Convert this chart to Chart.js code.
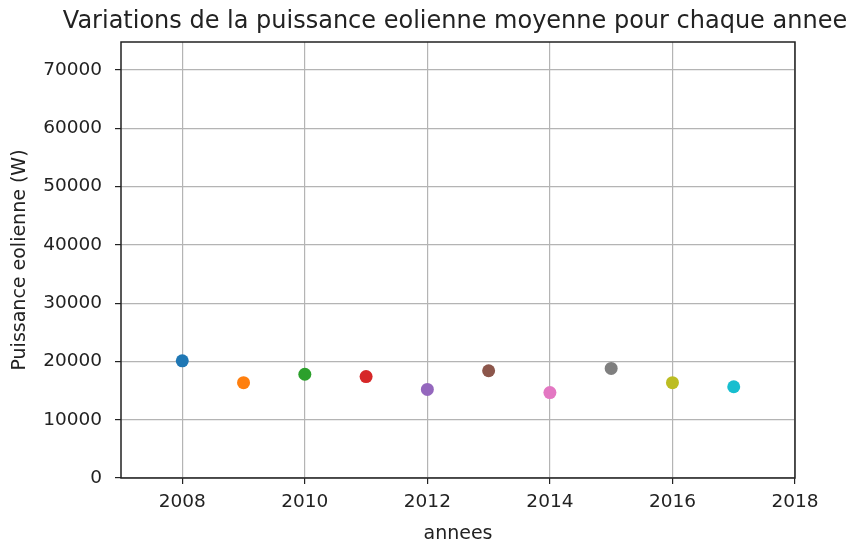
<!DOCTYPE html>
<html>
<head>
<meta charset="utf-8">
<script src="https://cdn.jsdelivr.net/npm/chart.js@4/dist/chart.umd.min.js"></script>
<style>
  html, body { margin: 0; padding: 0; background: #fff; }
  #wrap { width: 856px; height: 543px; }
</style>
</head>
<body>
<div id="wrap"><canvas id="windChart" width="856" height="543"></canvas></div>
<script>
// donnees
var annees    = [2008, 2009, 2010, 2011, 2012, 2013, 2014, 2015, 2016, 2017];
var puissance = [20100, 16350, 17800, 17400, 15200, 18400, 14650, 18800, 16350, 15650];
var couleurs  = ["#1f77b4", "#ff7f0e", "#2ca02c", "#d62728", "#9467bd",
                 "#8c564b", "#e377c2", "#7f7f7f", "#bcbd22", "#17becf"];
var ticksX    = [2008, 2010, 2012, 2014, 2016, 2018];
var ticksY    = [0, 10000, 20000, 30000, 40000, 50000, 60000, 70000];
var titre     = "Variations de la puissance eolienne moyenne pour chaque annee";
var labelX    = "annees";
var labelY    = "Puissance eolienne (W)";

var points = [];
annees.forEach(function (a, i) {
    points.push({ x: a, y: puissance[i] });
});

var textColor = "#222";
var fontTick  = { family: "DejaVu Sans", size: 18.5 };
var fontLabel = { family: "DejaVu Sans", size: 19 };

// cadre noir autour de la zone du graphique + titre centre sur les axes (comme matplotlib)
var cadre = {
    id: 'cadre',
    afterDatasetsDraw: function (chart) {
        var ca = chart.chartArea;
        var ctx = chart.ctx;
        ctx.save();
        ctx.strokeStyle = "#222";
        ctx.lineWidth = 1.5;
        ctx.strokeRect(ca.left, ca.top, ca.right - ca.left, ca.bottom - ca.top);

        // le titre deborde de la zone, on le dessine a la main
        ctx.fillStyle = textColor;
        ctx.font = "24px 'DejaVu Sans'";
        ctx.textAlign = "center";
        ctx.textBaseline = "alphabetic";
        ctx.fillText(titre, (ca.left + ca.right) / 2 - 3, 28);
        ctx.restore();
    }
};

new Chart(document.getElementById("windChart"), {
    type: 'scatter',
    data: {
        datasets: [{
            label: labelY,
            data: points,
            backgroundColor: couleurs,
            borderWidth: 0,
            pointRadius: 6.5,
            pointHoverRadius: 6.5
        }]
    },
    options: {
        responsive: false,
        animation: false,
        layout: { padding: { left: 0, right: 61, top: 42, bottom: 0 } },
        plugins: {
            legend: { display: false },
            tooltip: { enabled: false },
            title: { display: false }
        },
        scales: {
            x: {
                type: 'linear',
                min: 2007,
                max: 2018,
                afterFit: function (s) { s.height = 65; },
                afterBuildTicks: function (s) {
                    s.ticks = ticksX.map(function (v) { return { value: v }; });
                },
                ticks: {
                    color: textColor,
                    font: fontTick,
                    padding: 7,
                    callback: function (v) { return String(v); }
                },
                grid: { color: "#b4b4b4", lineWidth: 1.2, tickColor: "#222", tickLength: 6 },
                border: { display: false },
                title: { display: true, text: labelX, color: textColor, font: fontLabel, padding: { top: 0, bottom: -2 } }
            },
            y: {
                min: 0,
                max: 74800,
                afterFit: function (s) { s.width = 121; },
                afterBuildTicks: function (s) {
                    s.ticks = ticksY.map(function (v) { return { value: v }; });
                },
                ticks: {
                    color: textColor,
                    font: fontTick,
                    padding: 13,
                    callback: function (v) { return String(v); }
                },
                grid: { color: "#b4b4b4", lineWidth: 1.2, tickColor: "#222", tickLength: 6 },
                border: { display: false },
                title: { display: true, text: labelY, color: textColor, font: fontLabel, padding: { top: 9, bottom: 0 } }
            }
        }
    },
    plugins: [cadre]
});
</script>
</body>
</html>
